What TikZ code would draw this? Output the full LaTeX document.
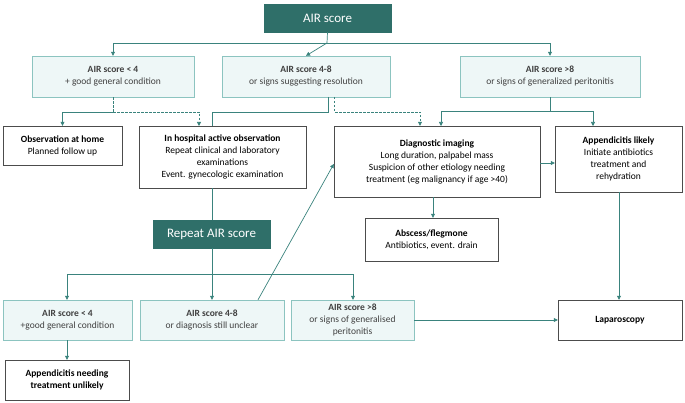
\documentclass[tikz,border=0pt]{standalone}
\usepackage{fontspec}
\setmainfont{Carlito}
\usetikzlibrary{arrows.meta}
\definecolor{teal1}{HTML}{2F6F69}
\definecolor{line1}{HTML}{3A837D}
\definecolor{lfill}{HTML}{EEF7F7}
\definecolor{lbord}{HTML}{8CC4C0}
\begin{document}
\begin{tikzpicture}[x=1pt,y=-1pt,
 base/.style={draw, align=center, inner sep=1pt, font=\fontsize{9.5}{12}\selectfont},
 hdr/.style={base, fill=teal1, draw=teal1, text=white, font=\fontsize{13}{15}\selectfont},
 lt/.style={base, fill=lfill, draw=lbord, text=black!75},
 wt/.style={base, fill=white, draw=black!70, text=black},
 c/.style={draw=line1, line width=0.7pt},
 a/.style={c, -{Triangle[length=4pt,width=4pt]}},
 d/.style={c, dashed, dash pattern=on 2.5pt off 1.5pt}]
\useasboundingbox (0,0) rectangle (685,403);
\newcommand{\bx}[6]{\node[#1, minimum width=#4-#2, minimum height=#5-#3] (#6) at ({(#2+#4)/2},{(#3+#5)/2})}
\bx{hdr}{264}{4}{391}{32}{air} {AIR score};
\bx{lt}{32}{56}{194}{97}{a1} {\textbf{AIR score < 4}\\+ good general condition};
\bx{lt}{222}{56}{390}{97}{a2} {\textbf{AIR score 4-8}\\or signs suggesting resolution};
\bx{lt}{460}{56}{640}{97}{a3} {\textbf{AIR score >8}\\or signs of generalized peritonitis};
\bx{wt}{3}{126}{122}{165}{home} {\textbf{Observation at home}\\Planned follow up};
\bx{wt}{139}{126}{306}{188}{hosp} {\textbf{In hospital active observation}\\Repeat clinical and laboratory\\examinations\\Event. gynecologic examination};
\bx{wt}{334}{126}{540}{197}{diag} {\textbf{Diagnostic imaging}\\Long duration, palpabel mass\\Suspicion of other etiology needing\\treatment (eg malignancy if age >40)};
\bx{wt}{555}{126}{682}{192}{app} {\textbf{Appendicitis likely}\\Initiate antibiotics\\treatment and\\rehydration};
\bx{wt}{365}{218}{498}{261}{abs} {\textbf{Abscess/flegmone}\\Antibiotics, event. drain};
\bx{hdr}{153}{220}{270}{248}{rep} {Repeat AIR score};
\bx{lt}{3}{300}{132}{340}{b1} {\textbf{AIR score < 4}\\+good general condition};
\bx{lt}{140}{300}{284}{340}{b2} {\textbf{AIR score 4-8}\\or diagnosis still unclear};
\bx{lt}{291}{300}{414}{340}{b3} {\textbf{AIR score >8}\\or signs of generalised\\peritonitis};
\bx{wt}{558}{300}{682}{340}{lap} {\textbf{Laparoscopy}};
\bx{wt}{5}{360}{129}{400}{unl} {\textbf{Appendicitis needing}\\\textbf{treatment unlikely}};
% top
\draw[c] (air.south) -- (327,43);
\draw[a] (327,43) -| (a1.north);
\draw[a] (327,43) -- (a2.north);
\draw[a] (327,43) -| (a3.north);
% a1
\draw[d] (a1.south) -- (113,112);
\draw[a] (113,112) -| (home.north);
\draw[d, -{Triangle[length=4pt,width=4pt]}] (113,112) -| (199,126);
% a2
\draw[c] (328,97) |- (212,112) -- (hosp.north -| 212,0);
\draw[d, -{Triangle[length=4pt,width=4pt]}] (334,97) |- (420,112) -- (diag.north -| 420,0);
% a3
\draw[c] (a3.south) -- (550,111);
\draw[a] (550,111) -| (441,126);
\draw[a] (550,111) -| (593,126);
\draw[a] (diag.east |- 0,163) -- (app.west |- 0,163);
\draw[a] (diag.south -| 433,0) -- (abs.north -| 433,0);
\draw[c] (hosp.south -| 212,0) -- (rep.north -| 212,0);
% repeat
\draw[c] (rep.south -| 212,0) -- (212,274);
\draw[a] (212,274) -| (b1.north -| 67,0);
\draw[a] (212,274) -- (b2.north -| 212,0);
\draw[a] (212,274) -| (b3.north -| 353,0);
\draw[a] (b2.north -| 258,0) -- (diag.west |- 0,164);
\draw[a] (b3.east) -- (lap.west);
\draw[a] (app.south -| 619,0) -- (lap.north -| 619,0);
\draw[a] (b1.south -| 67,0) -- (unl.north -| 67,0);
\end{tikzpicture}
\end{document}
